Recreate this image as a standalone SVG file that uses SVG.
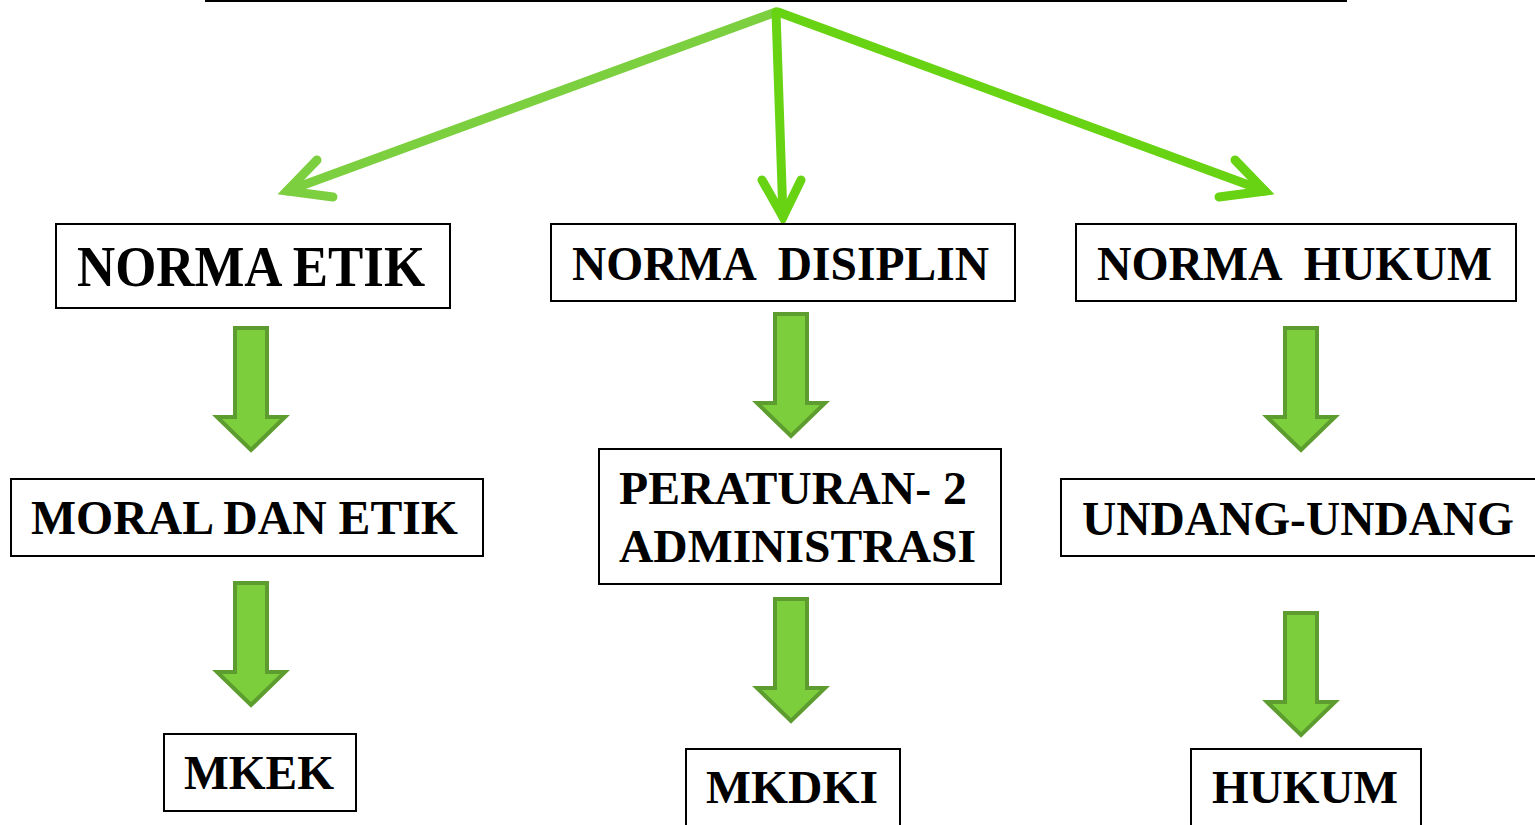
<svg xmlns="http://www.w3.org/2000/svg" width="1535" height="825" viewBox="0 0 1535 825">
<style>
.box{fill:#fff;stroke:#000;stroke-width:2}
.t{font-family:"Liberation Serif","Times New Roman",serif;font-weight:bold;fill:#000}
.blk{fill:#7dce3d;stroke:#5d9c2e;stroke-width:4;stroke-linejoin:miter}
.ln{fill:none;stroke-width:9;stroke-linecap:round;stroke-linejoin:miter}
</style>
<rect width="1535" height="825" fill="#fff"/>
<g id="top"><rect class="box" x="206" y="-40" width="1140" height="41"/></g>
<g id="connectors">
<g class="ln" stroke="#7ccf3e"><path d="M776 12 L287 191"/><path d="M317 160 L287 191 L333 197"/></g>
<g class="ln" stroke="#68d312"><path d="M776 12 L783 217"/><path d="M762 180 L783 217 L801 180"/></g>
<g class="ln" stroke="#68d312"><path d="M778 12 L1265 191"/><path d="M1235 160 L1265 191 L1219 197"/></g>
<path class="blk" d="M235 328 H267 V417 H285 L251 450 L217 417 H235 Z"/>
<path class="blk" d="M235 583 H267 V672 H285 L251 705 L217 672 H235 Z"/>
<path class="blk" d="M775 314 H807 V403 H825 L791 436 L757 403 H775 Z"/>
<path class="blk" d="M775 599 H807 V688 H825 L791 721 L757 688 H775 Z"/>
<path class="blk" d="M1285 328 H1317 V417 H1335 L1301 450 L1267 417 H1285 Z"/>
<path class="blk" d="M1285 613 H1317 V702 H1335 L1301 735 L1267 702 H1285 Z"/>
</g>
<g id="n1"><rect class="box" x="56" y="224" width="394" height="84"/><text class="t" x="77" y="286" font-size="56" textLength="348" lengthAdjust="spacingAndGlyphs">NORMA ETIK</text></g>
<g id="n2"><rect class="box" x="551" y="224" width="464" height="77"/><text class="t" x="572" y="280" font-size="48" textLength="417" lengthAdjust="spacingAndGlyphs" xml:space="preserve">NORMA  DISIPLIN</text></g>
<g id="n3"><rect class="box" x="1076" y="224" width="440" height="77"/><text class="t" x="1097" y="280" font-size="48" textLength="395" lengthAdjust="spacingAndGlyphs" xml:space="preserve">NORMA  HUKUM</text></g>
<g id="n4"><rect class="box" x="11" y="479" width="472" height="77"/><text class="t" x="31" y="534" font-size="48" textLength="427" lengthAdjust="spacingAndGlyphs">MORAL DAN ETIK</text></g>
<g id="n5"><rect class="box" x="599" y="449" width="402" height="135"/><text class="t" x="619" y="504" font-size="47" textLength="348" lengthAdjust="spacingAndGlyphs">PERATURAN- 2</text><text class="t" x="619" y="562" font-size="46" textLength="357" lengthAdjust="spacingAndGlyphs">ADMINISTRASI</text></g>
<g id="n6"><rect class="box" x="1061" y="479" width="480" height="77"/><text class="t" x="1082" y="535" font-size="48" textLength="432" lengthAdjust="spacingAndGlyphs">UNDANG-UNDANG</text></g>
<g id="n7"><rect class="box" x="164" y="734" width="192" height="77"/><text class="t" x="184" y="789" font-size="48" textLength="150" lengthAdjust="spacingAndGlyphs">MKEK</text></g>
<g id="n8"><rect class="box" x="686" y="749" width="214" height="90"/><text class="t" x="706" y="803" font-size="47" textLength="172" lengthAdjust="spacingAndGlyphs">MKDKI</text></g>
<g id="n9"><rect class="box" x="1191" y="749" width="230" height="90"/><text class="t" x="1212" y="803" font-size="47" textLength="186" lengthAdjust="spacingAndGlyphs">HUKUM</text></g>
</svg>
